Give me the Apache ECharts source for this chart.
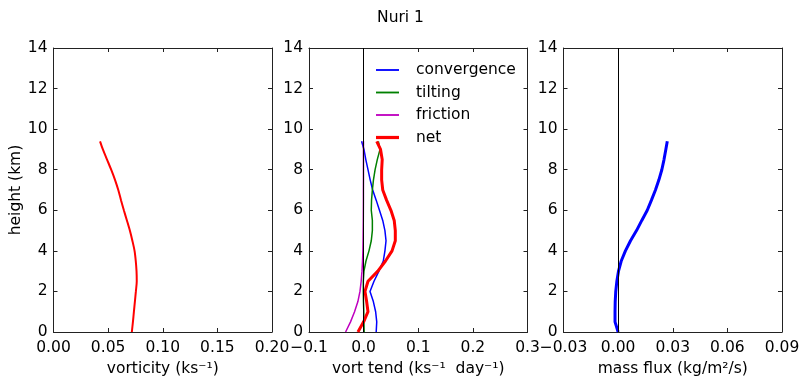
<!DOCTYPE html>
<html>
<head>
<meta charset="utf-8">
<script src="https://cdn.jsdelivr.net/npm/echarts@6/dist/echarts.min.js"></script>
<style>
  html, body { margin: 0; padding: 0; background: #fff; }
  #chart { width: 801px; height: 377px; }
</style>
</head>
<body>
<div id="chart"></div>
<script>
// heights (km) shared by all profiles
const heights = [0, 0.5, 1, 1.5, 2, 2.5, 3, 3.5, 4, 4.5, 5, 5.5, 6, 6.5, 7, 7.5, 8, 8.5, 9, 9.4]

// panel 1
const vorticity = [0.0717, 0.0727, 0.0736, 0.0745, 0.0754, 0.0762, 0.076, 0.0753, 0.0742, 0.0722,
  0.0699, 0.0672, 0.0644, 0.0618, 0.0593, 0.0563, 0.0528, 0.049, 0.0452, 0.0426]

// panel 2
const convergence = [0.023, 0.024, 0.022, 0.0178, 0.0117, 0.019, 0.028, 0.036, 0.039, 0.041,
  0.039, 0.035, 0.029, 0.023, 0.0166, 0.012, 0.008, 0.004, 0.0006, -0.0037]
const tilting = [0.001, 0.0005, 0.0003, -0.0003, -0.0006, -0.0006, 0.0006, 0.0043, 0.0098, 0.014,
  0.016, 0.016, 0.014, 0.0145, 0.016, 0.018, 0.021, 0.025, 0.030, 0.027]
const friction = [-0.033, -0.024, -0.0166, -0.0105, -0.0067, -0.0045, -0.003, -0.002, -0.0013, -0.001,
  -0.0008, -0.0006, -0.0005, -0.0004, -0.0004, -0.0003, -0.0003, -0.0003, -0.0003, -0.0003]
const net = [-0.0104, 0.0, 0.008, 0.0055, 0.0025, 0.008, 0.026, 0.040, 0.052, 0.058,
  0.058, 0.056, 0.050, 0.042, 0.035, 0.033, 0.033, 0.034, 0.031, 0.024]

// panel 3
const massFlux = [0, -0.0017, -0.0017, -0.0016, -0.0013, -0.0007, 0.0002, 0.0017, 0.004, 0.0068,
  0.0101, 0.013, 0.016, 0.0183, 0.0205, 0.0224, 0.024, 0.0252, 0.0262, 0.027]

const xRanges = [
  { min: 0, max: 0.2, interval: 0.05, digits: 2, name: 'vorticity (ks⁻¹)' },
  { min: -0.1, max: 0.3, interval: 0.1, digits: 1, name: 'vort tend (ks⁻¹  day⁻¹)' },
  { min: -0.03, max: 0.09, interval: 0.03, digits: 2, name: 'mass flux (kg/m²/s)' },
]
const lefts = [53.5, 309, 563.5]

const font = 'DejaVu Sans'
const fs = 15.5
const frame = '#222'

const pairs = (vals) => vals.map((v, i) => [v, heights[i]])
const fmt = (d) => (v) => {
  if (Math.abs(v) < 1e-9) v = 0
  return v.toFixed(d).replace('-', '\u2212')
}

const grid = lefts.map((l) => ({ left: l, top: 48, width: 218.5, height: 284, outerBoundsMode: 'none', containLabel: false }))
const xAxis = []
const yAxis = []
xRanges.forEach((r, i) => {
  xAxis.push({
    type: 'value', gridIndex: i, position: 'bottom',
    min: r.min, max: r.max, interval: r.interval,
    name: r.name, nameLocation: 'middle', nameGap: 29,
    nameTextStyle: { fontFamily: font, fontSize: fs, color: '#000' },
    axisLine: { show: true, onZero: false, lineStyle: { color: frame, width: 1 } },
    axisTick: { show: true, inside: true, length: 4, lineStyle: { color: frame } },
    axisLabel: { fontFamily: font, fontSize: fs, color: '#000', margin: 8, formatter: fmt(r.digits), hideOverlap: false },
    splitLine: { show: false },
  })
  xAxis.push({
    type: 'value', gridIndex: i, position: 'top',
    min: r.min, max: r.max, interval: r.interval,
    axisLine: { show: true, onZero: false, lineStyle: { color: frame, width: 1 } },
    axisTick: { show: true, inside: true, length: 4, lineStyle: { color: frame } },
    axisLabel: { show: false },
    splitLine: { show: false },
  })
  yAxis.push({
    type: 'value', gridIndex: i, position: 'left',
    min: 0, max: 14, interval: 2,
    name: i === 0 ? 'height (km)' : '', nameLocation: 'middle', nameGap: 30,
    nameTextStyle: { fontFamily: font, fontSize: fs, color: '#000' },
    axisLine: { show: true, onZero: false, lineStyle: { color: frame, width: 1 } },
    axisTick: { show: true, inside: true, length: 4, lineStyle: { color: frame } },
    axisLabel: { fontFamily: font, fontSize: fs, color: '#000', margin: 6 },
    splitLine: { show: false },
  })
  yAxis.push({
    type: 'value', gridIndex: i, position: 'right',
    min: 0, max: 14, interval: 2,
    axisLine: { show: true, onZero: false, lineStyle: { color: frame, width: 1 } },
    axisTick: { show: true, inside: true, length: 4, lineStyle: { color: frame } },
    axisLabel: { show: false },
    splitLine: { show: false },
  })
})

const zeroLine = {
  silent: true, symbol: 'none', label: { show: false },
  lineStyle: { color: '#000', width: 1, type: 'solid' },
  data: [{ xAxis: 0 }],
}

const line = (name, vals, color, width, panel, extra) => Object.assign({
  type: 'line', name, data: pairs(vals),
  xAxisIndex: panel * 2, yAxisIndex: panel * 2,
  showSymbol: false, symbol: 'none', animation: false,
  lineStyle: { color, width }, itemStyle: { color },
}, extra || {})

// legend icons: thin bars, thicker for net
const thin = 'path://M0,0H100V8H0Z'
const thick = 'path://M0,0H100V14H0Z'

const chart = echarts.init(document.getElementById('chart'))
chart.setOption({
  backgroundColor: '#fff',
  animation: false,
  title: {
    text: 'Nuri 1', left: 'center', top: 5,
    textStyle: { fontFamily: font, fontSize: fs, fontWeight: 'normal', color: '#000' },
  },
  legend: {
    data: [
      { name: 'convergence', icon: thin },
      { name: 'tilting', icon: thin },
      { name: 'friction', icon: thin },
      { name: 'net', icon: thick },
    ],
    orient: 'vertical', left: 376, top: 62, padding: 0,
    itemWidth: 23, itemHeight: 14, itemGap: 6.5,
    symbolKeepAspect: true,
    textStyle: { fontFamily: font, fontSize: fs, color: '#000', padding: [0, 0, 0, 12] },
  },
  grid, xAxis, yAxis,
  series: [
    line('vorticity', vorticity, '#ff0000', 2, 0, { smooth: 0.3 }),
    line('convergence', convergence, '#0000ff', 1.5, 1, { markLine: zeroLine }),
    line('tilting', tilting, '#008000', 1.5, 1),
    line('friction', friction, '#bf00bf', 1.5, 1),
    line('net', net, '#ff0000', 3, 1),
    line('mass flux', massFlux, '#0000ff', 3, 2, { markLine: zeroLine }),
  ],
})
</script>
</body>
</html>
